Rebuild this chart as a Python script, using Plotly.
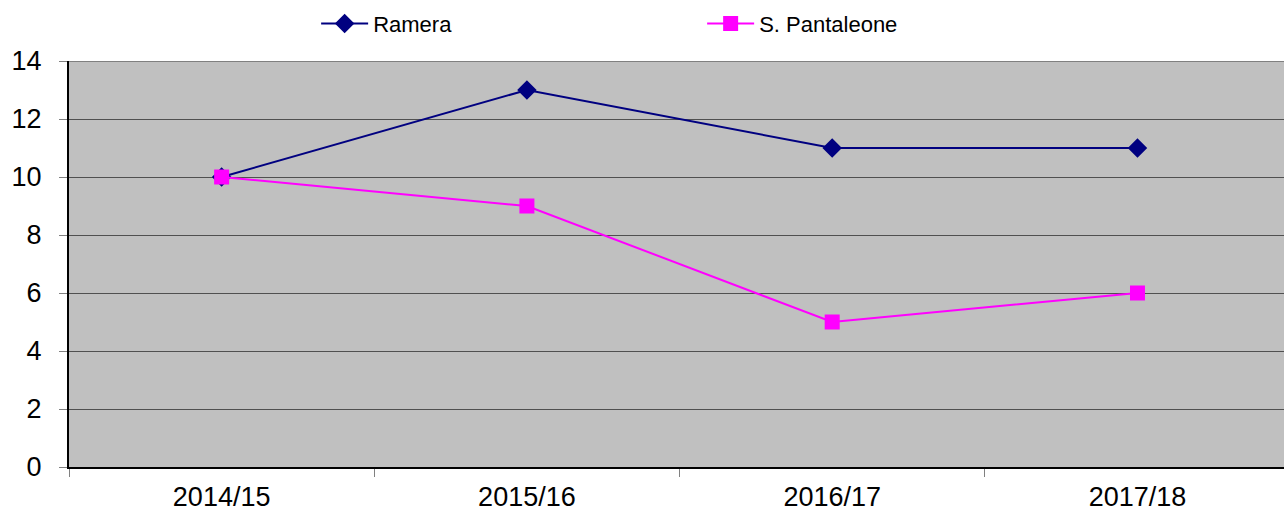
import plotly.graph_objects as go

categories = ["2014/15", "2015/16", "2016/17", "2017/18"]
ramera = [10, 13, 11, 11]
pantaleone = [10, 9, 5, 6]
y_ticks = [0, 2, 4, 6, 8, 10, 12, 14]

FONT = "Liberation Sans, Arial, sans-serif"

fig = go.Figure()
fig.add_trace(go.Scatter(
    x=categories, y=ramera, name="Ramera", mode="lines+markers",
    line=dict(color="#000080", width=2),
    marker=dict(symbol="diamond", size=15, color="#000080"),
))
fig.add_trace(go.Scatter(
    x=categories, y=pantaleone, name="S. Pantaleone", mode="lines+markers",
    line=dict(color="#FF00FF", width=2),
    marker=dict(symbol="square", size=15, color="#FF00FF"),
))

fig.add_shape(type="line", xref="paper", yref="y", x0=0, x1=1, y0=14, y1=14,
              line=dict(color="#808080", width=2), layer="above")

fig.update_layout(
    width=1284, height=513,
    margin=dict(l=69, r=0, t=61, b=46, autoexpand=False),
    paper_bgcolor="white",
    plot_bgcolor="#C0C0C0",
    font=dict(family=FONT, color="black"),
    showlegend=True,
    legend=dict(
        orientation="h", x=0.2034, y=1.092, xanchor="left", yanchor="middle",
        entrywidth=324, entrywidthmode="pixels", itemwidth=47,
        font=dict(size=22, family=FONT),
        bgcolor="rgba(0,0,0,0)", traceorder="normal",
    ),
    xaxis=dict(
        type="category", range=[-0.5, 3.48], automargin=False,
        tickson="boundaries", ticks="outside", ticklen=8, tickcolor="#808080",
        showgrid=False, showline=True, linecolor="black", linewidth=2,
        tickfont=dict(size=27, family=FONT), zeroline=False,
        ticklabelstandoff=5,
    ),
    yaxis=dict(
        range=[0, 14], tickvals=y_ticks, ticks="outside", ticklen=8,
        automargin=False,
        tickcolor="#808080", showgrid=True, gridcolor="#505050", gridwidth=1,
        showline=True, linecolor="black", linewidth=2, zeroline=False,
        tickfont=dict(size=27, family=FONT), ticklabelstandoff=12,
    ),
)

fig.write_html(
    "out.html",
    config={"displayModeBar": False},
    post_script="document.body.style.margin='0';document.body.style.overflow='hidden';",
)
